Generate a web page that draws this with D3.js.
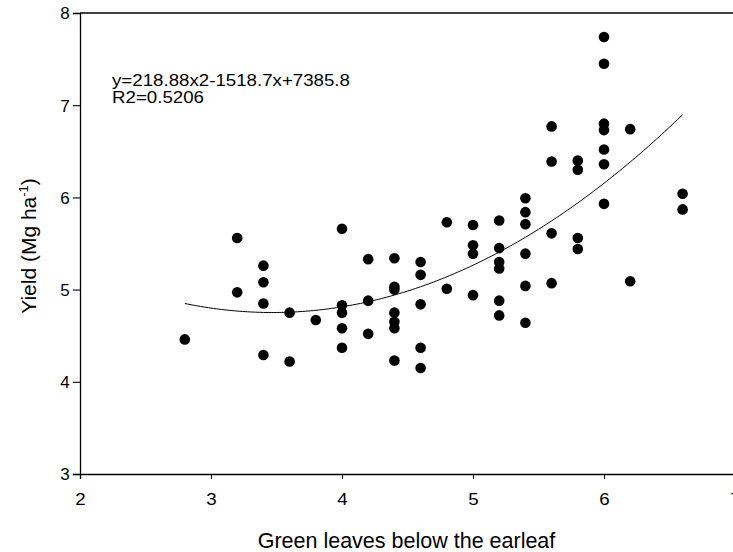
<!DOCTYPE html>
<html>
<head>
<meta charset="utf-8">
<script src="https://cdn.jsdelivr.net/npm/d3@7"></script>
<style>
  html, body { margin: 0; padding: 0; background: #fff; }
  svg { display: block; }
  text { font-family: Arial, "Liberation Sans", sans-serif; fill: #000; }
</style>
</head>
<body>
<svg id="chart" width="733" height="552"></svg>
<script>
// Green leaves below the ear leaf (x) and grain yield in Mg/ha (y)
const leaves = [
  2.8,
  3.2, 3.2,
  3.4, 3.4, 3.4, 3.4,
  3.6, 3.6,
  3.8,
  4.0, 4.0, 4.0, 4.0, 4.0,
  4.2, 4.2, 4.2,
  4.4, 4.4, 4.4, 4.4, 4.4, 4.4, 4.4,
  4.6, 4.6, 4.6, 4.6, 4.6,
  4.8, 4.8,
  5.0, 5.0, 5.0, 5.0,
  5.2, 5.2, 5.2, 5.2, 5.2, 5.2,
  5.4, 5.4, 5.4, 5.4, 5.4, 5.4,
  5.6, 5.6, 5.6, 5.6,
  5.8, 5.8, 5.8, 5.8,
  6.0, 6.0, 6.0, 6.0, 6.0, 6.0, 6.0,
  6.2, 6.2,
  6.6, 6.6
];
const yieldMg = [
  4.46,
  5.56, 4.97,
  5.26, 5.08, 4.85, 4.29,
  4.75, 4.22,
  4.67,
  5.66, 4.83, 4.75, 4.58, 4.37,
  5.33, 4.88, 4.52,
  5.34, 5.03, 5.00, 4.75, 4.65, 4.58, 4.23,
  5.30, 5.16, 4.84, 4.37, 4.15,
  5.73, 5.01,
  5.70, 5.48, 5.39, 4.94,
  5.75, 5.45, 5.30, 5.23, 4.88, 4.72,
  5.99, 5.84, 5.71, 5.39, 5.04, 4.64,
  6.77, 6.39, 5.61, 5.07,
  6.40, 6.30, 5.56, 5.44,
  7.74, 7.45, 6.80, 6.73, 6.52, 6.36, 5.93,
  6.74, 5.09,
  6.04, 5.87
];

// Quadratic fit in kg/ha: y = a*x^2 + b*x + c
const fitCoef = [218.88, -1518.7, 7385.8];
const fitRange = [2.8, 6.6];
const fitLabels = ["y=218.88x2-1518.7x+7385.8", "R2=0.5206"];

const xTicks = [2, 3, 4, 5, 6, 7];
const yTicks = [3, 4, 5, 6, 7, 8];

const svg = d3.select("#chart");
const stretch = "scale(1.1,1)";

const x = d3.scaleLinear().domain([2, 7]).range([80, 735]);
const y = d3.scaleLinear().domain([3, 8]).range([474, 13]);

// Frame (top and right edges of the plot box)
svg.append("line")
  .attr("x1", x(2)).attr("x2", x(7))
  .attr("y1", y(8)).attr("y2", y(8))
  .attr("stroke", "#000").attr("stroke-width", 1.3);
svg.append("line")
  .attr("x1", x(7)).attr("x2", x(7))
  .attr("y1", y(8)).attr("y2", y(3))
  .attr("stroke", "#000").attr("stroke-width", 1.3);

// Bottom axis
const gx = svg.append("g")
  .attr("transform", `translate(0,${y(3)})`)
  .call(d3.axisBottom(x).tickValues(xTicks).tickFormat(d3.format("d")).tickSize(5).tickPadding(14));
// Left axis
const gy = svg.append("g")
  .attr("transform", `translate(${x(2)},0)`)
  .call(d3.axisLeft(y).tickValues(yTicks).tickFormat(d3.format("d")).tickSize(7).tickPadding(8));

[gx, gy].forEach(g => {
  g.select(".domain").attr("stroke", "#000").attr("stroke-width", 1.3);
  g.selectAll(".tick line").attr("stroke", "#000").attr("stroke-width", 1.1);
  g.selectAll(".tick text")
    .attr("font-size", 17)
    .attr("font-family", "Arial, 'Liberation Sans', sans-serif")
    .attr("fill", "#000");
});
gx.selectAll(".tick text").attr("transform", stretch);
gy.selectAll(".tick text").attr("text-anchor", "middle").attr("x", -15).attr("dy", "0.35em");

// Fitted curve
const curveX = d3.range(fitRange[0], fitRange[1] + 1e-9, 0.02);
const fitY = v => (fitCoef[0] * v * v + fitCoef[1] * v + fitCoef[2]) / 1000;
svg.append("path")
  .datum(curveX)
  .attr("fill", "none")
  .attr("stroke", "#000")
  .attr("stroke-width", 1)
  .attr("d", d3.line().x(d => x(d)).y(d => y(fitY(d))));

// Observations
svg.append("g")
  .selectAll("circle")
  .data(leaves.map((v, i) => [v, yieldMg[i]]))
  .join("circle")
  .attr("cx", d => x(d[0]))
  .attr("cy", d => y(d[1]))
  .attr("r", 5.3)
  .attr("fill", "#000");

// Regression equation
fitLabels.forEach((t, i) => {
  svg.append("text")
    .attr("transform", `translate(112,${86 + i * 17}) ${stretch}`)
    .attr("font-size", 17)
    .text(t);
});

// Axis titles
svg.append("text")
  .attr("transform", `translate(${(x(2) + x(7)) / 2 - 1},548)`)
  .attr("text-anchor", "middle")
  .attr("font-size", 21.5)
  .text("Green leaves below the earleaf");

const yt = svg.append("text")
  .attr("transform", "translate(36,246) rotate(-90)")
  .attr("text-anchor", "middle")
  .attr("font-size", 21);
yt.append("tspan").text("Yield (Mg ha");
yt.append("tspan").attr("font-size", 13).attr("dy", -8).text("-1");
yt.append("tspan").attr("dy", 8).text(")");
</script>
</body>
</html>
